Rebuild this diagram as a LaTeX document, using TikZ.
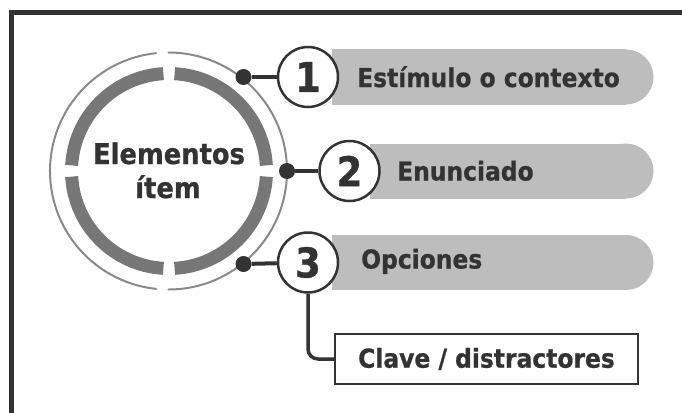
\documentclass[tikz,border=0pt]{standalone}
\usepackage{fontspec}
\newfontfamily\lbl{DejaVu Sans}[FakeStretch=0.9, BoldFeatures={FakeBold=0.8}]
\definecolor{ink}{HTML}{333333}
\definecolor{pillgray}{HTML}{BDBDBD}
\definecolor{ringdark}{HTML}{777777}
\definecolor{ringthin}{HTML}{8A8A8A}
\begin{document}
\begin{tikzpicture}[x=1pt,y=-1pt,
  txt/.style={font=\lbl\bfseries\fontsize{26}{30}\selectfont, text=ink, inner sep=0pt, anchor=base west},
  ctxt/.style={font=\lbl\bfseries\fontsize{28.6}{34}\selectfont, text=ink, inner sep=0pt, anchor=base},
  numc/.style={circle, draw=ink, line width=2.5pt, fill=white, minimum size=60pt, inner sep=0pt,
               font=\lbl\bfseries\fontsize{41}{41}\selectfont, text=ink},
  dotn/.style={circle, fill=ink, minimum size=16pt, inner sep=0pt},
  link/.style={draw=ink, line width=4pt},
  pillfill/.style={fill=pillgray},
  clavebox/.style={draw=ink, line width=2.5pt, fill=white, minimum width=303pt, minimum height=50pt,
               inner sep=0pt, font=\lbl\bfseries\fontsize{26}{30}\selectfont, text=ink}]
\useasboundingbox (0,0) rectangle (682,412);
% frame
\draw[ink, line width=5pt] (11.5,430) -- (11.5,12.5) -- (700,12.5);
% pills
\fill[pillfill] (332,49.5) rectangle (626,104.5);
\fill[pillfill] (626,77) circle (27.5);
\fill[pillfill] (370,143.5) rectangle (626,198.5);
\fill[pillfill] (626,171) circle (27.5);
\fill[pillfill] (332,235) rectangle (626,290);
\fill[pillfill] (626,262.5) circle (27.5);
% thin ring
\draw[ringthin, line width=2pt, line cap=round] (168.5,171) ++(-90:118.5) arc[start angle=-90, end angle=90, radius=118.5];
\draw[ringthin, line width=2pt, line cap=round] (168.5,171) ++(96:118.5) arc[start angle=96, end angle=264, radius=118.5];
% thick ring
\foreach \a in {0,90,180,270}{
  \draw[ringdark, line width=13pt] (169,171) ++(\a+3.3:97.5) arc[start angle=\a+3.3, end angle=\a+86.7, radius=97.5];
}
% center text
\node[ctxt] (el1) at (169,164) {Elementos};
\node[ctxt] (el2) at (168,198) {ítem};
% dots and number circles
\node[dotn] (d1) at (243.5,77) {};
\node[dotn] (d2) at (287,171) {};
\node[dotn] (d3) at (243.5,264) {};
\node[numc] (c1) at (308,77) {1};
\node[numc] (c2) at (349.5,171) {2};
\node[numc] (c3) at (308,262.5) {3};
\draw[link] (d1) -- (c1);
\draw[link] (d2) -- (c2);
\draw[link] (d3) -- (c3);
% labels
\node[txt] (t1) at (357,87) {Estímulo o contexto};
\node[txt] (t2) at (397,180.5) {Enunciado};
\node[txt] (t3) at (361,268.5) {Opciones};
% clave box
\node[clavebox] (clave) at (486.5,359) {Clave / distractores};
\draw[draw=ink, line width=3.5pt, rounded corners=10pt] (c3.south) |- (clave.west);
\end{tikzpicture}
\end{document}
